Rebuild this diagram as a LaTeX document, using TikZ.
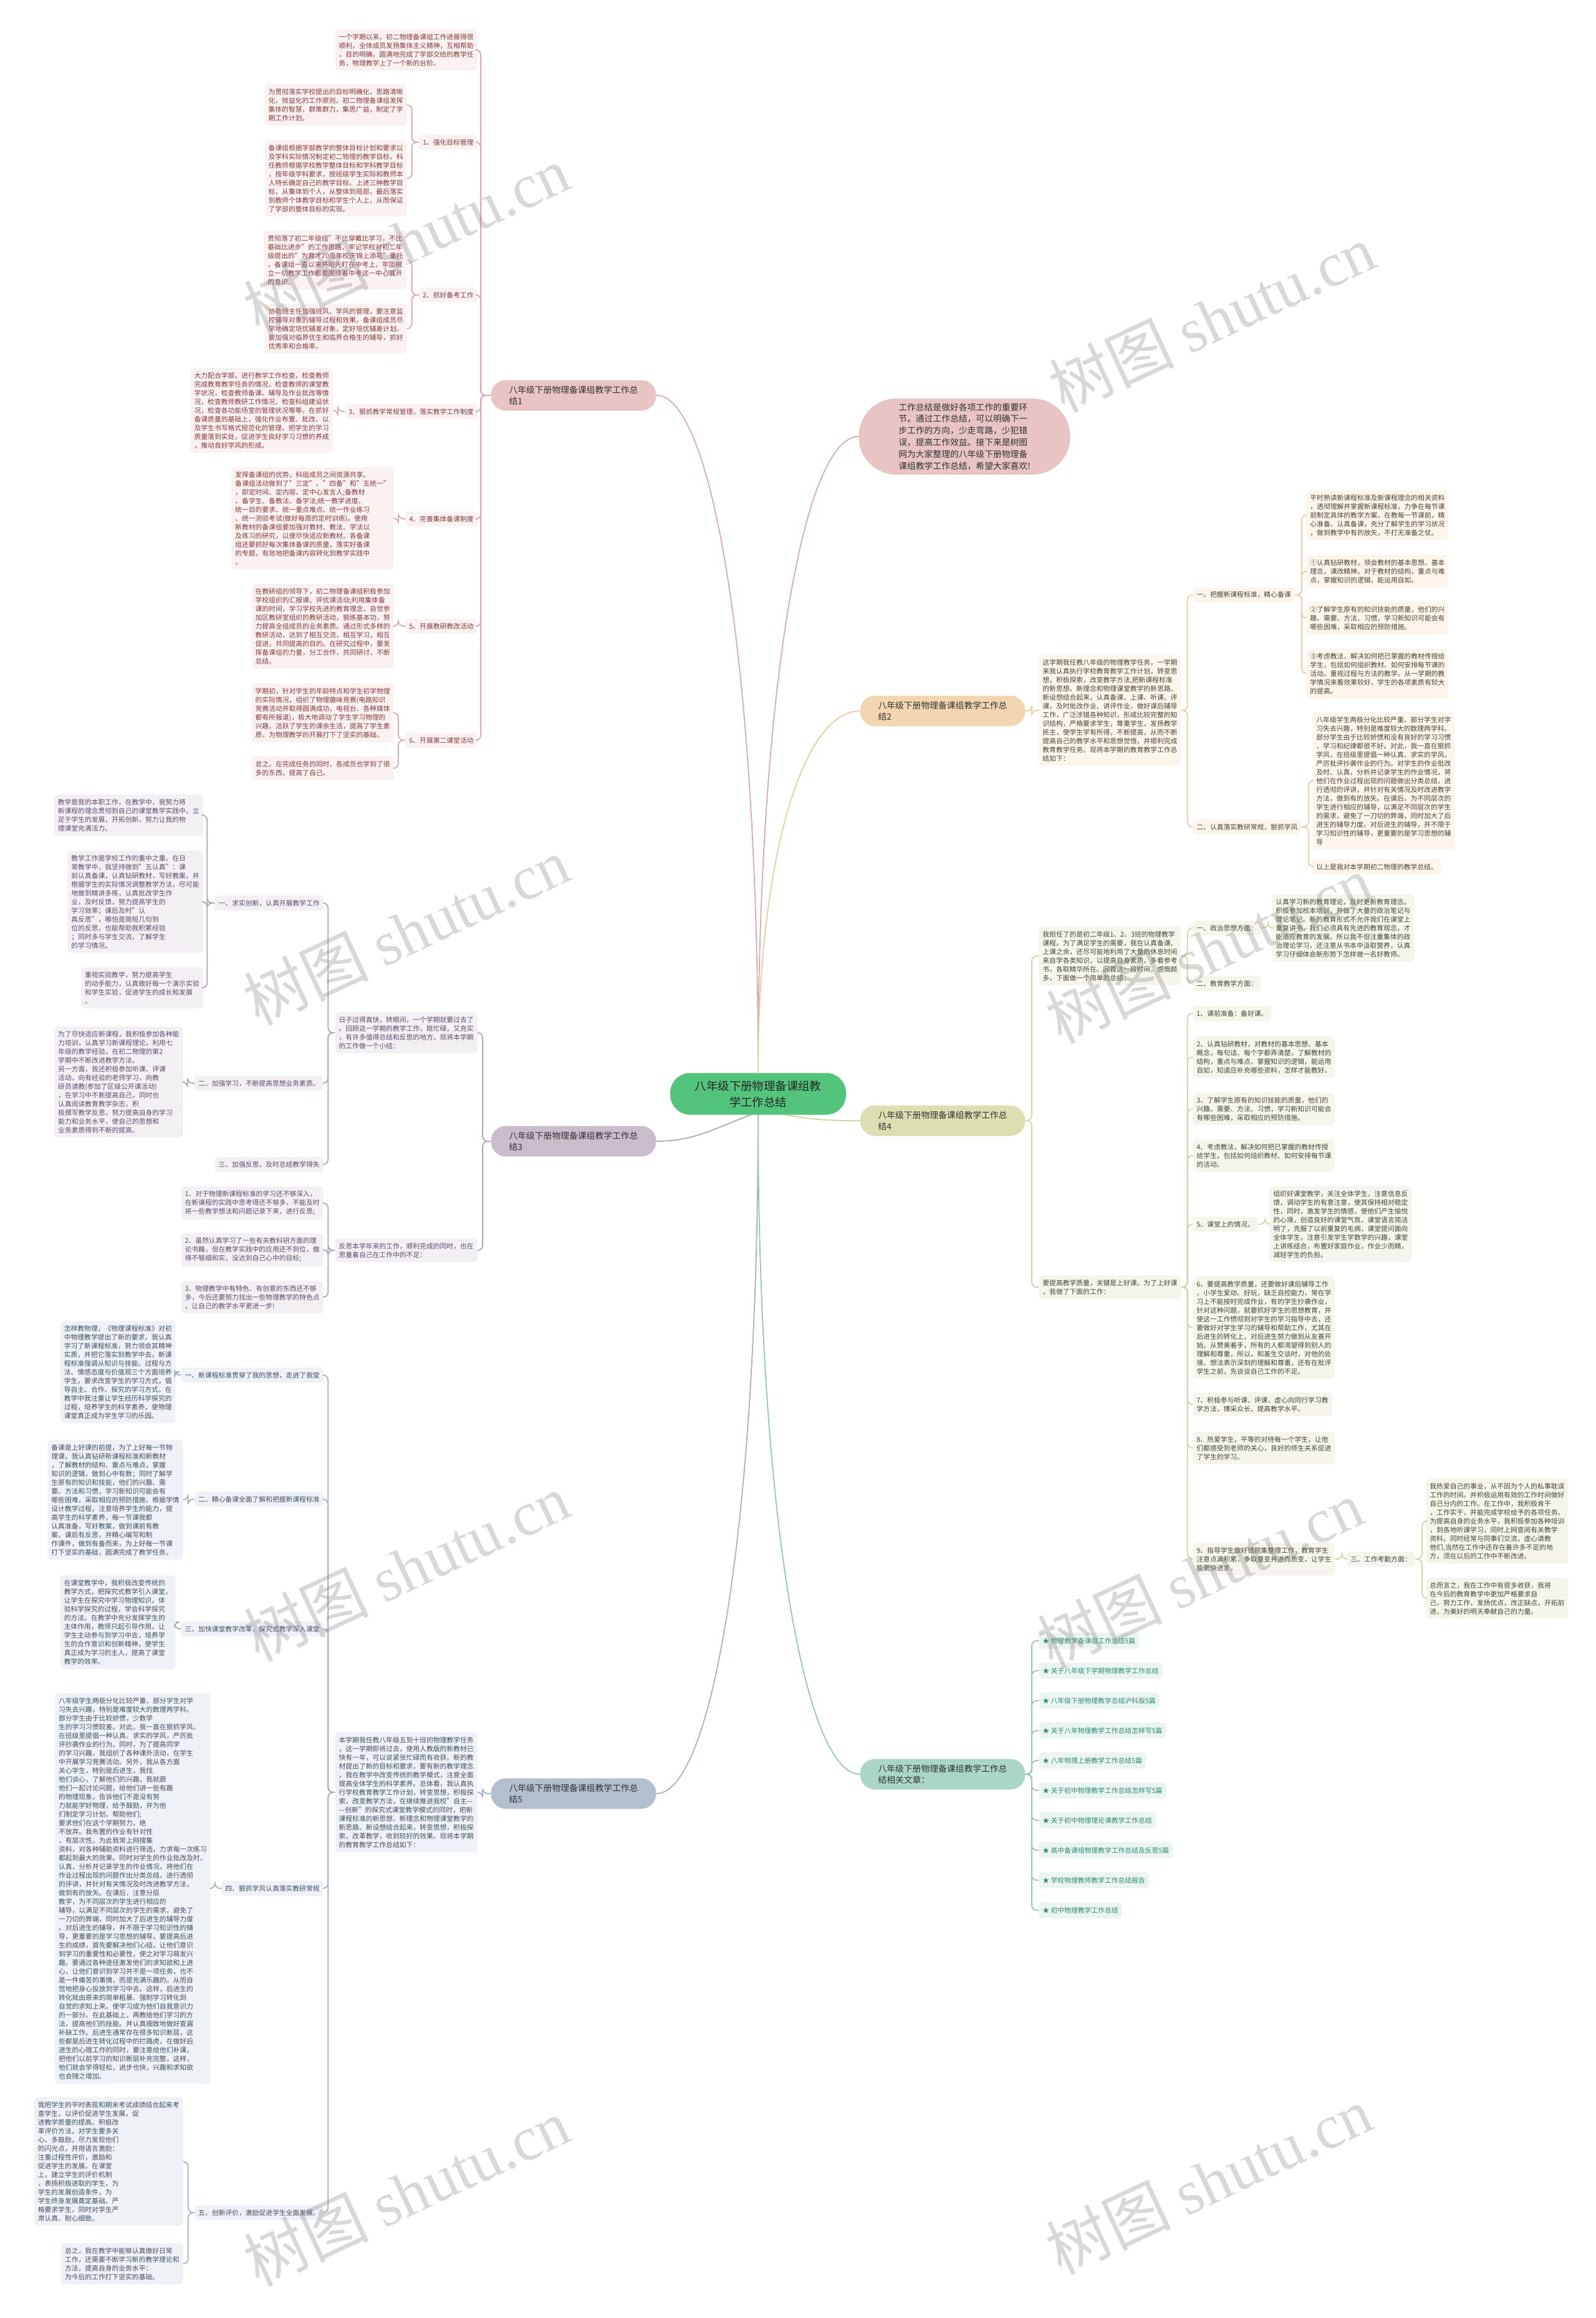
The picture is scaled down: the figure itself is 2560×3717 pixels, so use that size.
\documentclass[tikz,border=0pt]{standalone}
\usepackage{fontspec}
\setmainfont{Noto Sans CJK SC}
\newfontfamily\wmlatin{Liberation Serif}
\usetikzlibrary{positioning}
\definecolor{rootgreen}{HTML}{52C47C}
\definecolor{pinkfill}{HTML}{E8C4C4}
\definecolor{pinkline}{HTML}{DBAAAA}
\definecolor{pinkbox}{HTML}{FAF1F1}
\definecolor{pinktext}{HTML}{8A3B3B}
\definecolor{sandfill}{HTML}{F2D6B2}
\definecolor{sandline}{HTML}{EBCBA0}
\definecolor{sandbox}{HTML}{FBF5EC}
\definecolor{sandtext}{HTML}{4E4232}
\definecolor{plumfill}{HTML}{C9BCCB}
\definecolor{plumline}{HTML}{B3A6B6}
\definecolor{plumbox}{HTML}{F3F0F4}
\definecolor{plumtext}{HTML}{5E4B6A}
\definecolor{olivefill}{HTML}{DDDFB3}
\definecolor{oliveline}{HTML}{D2D4A4}
\definecolor{olivebox}{HTML}{F5F5EC}
\definecolor{olivetext}{HTML}{45453A}
\definecolor{slatefill}{HTML}{B3BFCE}
\definecolor{slateline}{HTML}{A5B2C2}
\definecolor{slatebox}{HTML}{EEF1F5}
\definecolor{slatetext}{HTML}{3F5064}
\definecolor{tealfill}{HTML}{A9D6C6}
\definecolor{tealline}{HTML}{92C8B5}
\definecolor{tealbox}{HTML}{EAF5F1}
\definecolor{tealtext}{HTML}{2F8B71}
\newcommand\txt{\fontsize{5.4pt}{7pt}\selectfont}
\tikzset{
  blk/.style={rounded corners=2.5pt, align=left, inner xsep=3pt, inner ysep=3.5pt, font=\txt},
  topic/.style={rounded corners=12pt, minimum width=132.5pt, minimum height=24.5pt,
    align=left, inner sep=0pt, text=black!80, font=\fontsize{6.9pt}{9pt}\selectfont},
  pbox/.style={blk, fill=pinkbox, text=pinktext},
  sbox/.style={blk, fill=sandbox, text=sandtext},
  mbox/.style={blk, fill=plumbox, text=plumtext},
  obox/.style={blk, fill=olivebox, text=olivetext},
  gbox/.style={blk, fill=slatebox, text=slatetext},
  tbox/.style={blk, fill=tealbox, text=tealtext},
  pln/.style={draw=pinkline, line width=0.9pt, rounded corners=4pt},
  sln/.style={draw=sandline, line width=0.9pt, rounded corners=4pt},
  mln/.style={draw=plumline, line width=0.9pt, rounded corners=4pt},
  oln/.style={draw=oliveline, line width=0.9pt, rounded corners=4pt},
  gln/.style={draw=slateline, line width=0.9pt, rounded corners=4pt},
  tln/.style={draw=tealline, line width=0.9pt, rounded corners=4pt},
  wmark/.style={rotate=25, text=gray, opacity=0.3, font=\fontsize{50pt}{50pt}\selectfont}
}
\begin{document}
\begin{tikzpicture}[x=0.5pt,y=-0.5pt]
  \fill[white] (0,0) rectangle (2560,3717);
  \useasboundingbox (0,0) rectangle (2560,3717);
  % root and first level
  \node[fill=rootgreen, rounded corners=16pt, minimum width=141pt, minimum height=33.5pt,
    align=center, inner sep=0pt, text=black!85, font=\fontsize{9.2pt}{13pt}\selectfont]
    (root) at (1216,1754) {八年级下册物理备课组教\\学工作总结};
  \node[fill=pinkfill, rounded corners=30pt, minimum width=169.5pt, minimum height=61pt,
    align=left, inner sep=0pt, text=black!80, font=\fontsize{6.9pt}{9.4pt}\selectfont]
    (intro) at (1547,700) {工作总结是做好各项工作的重要环\\节。通过工作总结，可以明确下一\\步工作的方向，少走弯路，少犯错\\误，提高工作效益。接下来是树图\\网为大家整理的八年级下册物理备\\课组教学工作总结，希望大家喜欢!};
  \node[topic, fill=pinkfill] (b1) at (920,634) {八年级下册物理备课组教学工作总\\结1};
  \node[topic, fill=sandfill] (b2) at (1512,1140) {八年级下册物理备课组教学工作总\\结2};
  \node[topic, fill=plumfill] (b3) at (920,1830) {八年级下册物理备课组教学工作总\\结3};
  \node[topic, fill=olivefill] (b4) at (1512,1797) {八年级下册物理备课组教学工作总\\结4};
  \node[topic, fill=slatefill] (b5) at (920,2876) {八年级下册物理备课组教学工作总\\结5};
  \node[topic, fill=tealfill] (b6) at (1512,2845) {八年级下册物理备课组教学工作总\\结相关文章：};
  \draw[pln] (root.north) .. controls +(0,-600) and +(-90,0) .. (intro.west);
  \draw[pln] (root.north) .. controls +(0,-650) and +(90,0) .. (b1.east);
  \draw[sln] (root.north) .. controls +(0,-350) and +(-90,0) .. (b2.west);
  \draw[mln] ([xshift=-6pt]root.south) to[out=200,in=0] (b3.east);
  \draw[oln] ([xshift=22pt]root.south) to[out=-10,in=180] (b4.west);
  \draw[gln] (root.south) .. controls +(0,650) and +(90,0) .. (b5.east);
  \draw[tln] (root.south) .. controls +(0,630) and +(-90,0) .. (b6.west);

  % branch 1
  \node[pbox, anchor=east] (b1a) at (766,80) {一个学期以来，初二物理备课组工作进展得很\\顺利，全体成员发扬集体主义精神，互相帮助\\，目的明确，圆满地完成了学部交给的教学任\\务，物理教学上了一个新的台阶。};
  \node[pbox, anchor=east] (b1k1) at (766,228) {1、强化目标管理};
  \node[pbox, anchor=east] (b1k1a) at (653,168) {为贯彻落实学校提出的目标明确化，思路清晰\\化，效益化的工作原则，初二物理备课组发挥\\集体的智慧，群策群力，集思广益，制定了学\\期工作计划。};
  \node[pbox, anchor=east] (b1k1b) at (653,286) {备课组根据学部教学的整体目标计划和要求以\\及学科实际情况制定初二物理的教学目标。科\\任教师根据学校教学整体目标和学科教学目标\\，按年级学科要求，按班级学生实际和教师本\\人特长确定自己的教学目标。上述三种教学目\\标，从集体到个人，从整体到局部，最后落实\\到教师个体教学目标和学生个人上，从而保证\\了学部的整体目标的实现。};
  \node[pbox, anchor=east] (b1k2) at (766,473) {2、抓好备考工作};
  \node[pbox, anchor=east] (b1k2a) at (653,417) {贯彻落了初二年级组"不比穿戴比学习，不比\\基础比进步"的工作思路，牢记学校对初二年\\级提出的"为育才70周年校庆锦上添花"重托\\，备课组一直以来将眼光盯在中考上，牢固树\\立一切教学工作都要围绕着中考这一中心展开\\的意识。};
  \node[pbox, anchor=east] (b1k2b) at (653,527) {协助班主任加强班风、学风的管理，要注意监\\控辅导对象的辅导过程和效果。备课组成员尽\\早地确定培优辅差对象，定好培优辅差计划。\\要加强对临界优生和临界合格生的辅导，抓好\\优秀率和合格率。};
  \node[pbox, anchor=east] (b1k3) at (766,660) {3、狠抓教学常规管理，落实教学工作制度};
  \node[pbox, anchor=east] (b1k3a) at (534,658) {大力配合学部，进行教学工作检查，检查教师\\完成教育教学任务的情况，检查教师的课堂教\\学状况，检查教师备课、辅导及作业批改等情\\况，检查教师教研工作情况，检查科组建设状\\况，检查各功能场室的管理状况等等。在抓好\\备课质量的基础上，强化作业布置、批改、以\\及学生书写格式规范化的管理。把学生的学习\\质量落到实处，促进学生良好学习习惯的养成\\，推动良好学风的形成。};
  \node[pbox, anchor=east] (b1k4) at (766,832) {4、完善集体备课制度};
  \node[pbox, anchor=east] (b1k4a) at (632,831) {发挥备课组的优势，科组成员之间资源共享。\\备课组活动做到了"三定"、"四备"和"五统一"\\，即定时间、定内容、定中心发言人;备教材\\、备学生、备教法、备学法;统一教学进度、\\统一目的要求、统一重点难点、统一作业练习\\、统一测验考试(做好每周的定时训练)。使用\\新教材的备课组要加强对教材、教法、学法以\\及练习的研究，以便尽快适应新教材。各备课\\组还要抓好每次集体备课的质量，落实好备课\\的专题，有效地把备课内容转化到教学实践中\\。};
  \node[pbox, anchor=east] (b1k5) at (766,1004) {5、开展教研教改活动};
  \node[pbox, anchor=east] (b1k5a) at (632,1004) {在教研组的领导下，初二物理备课组积极参加\\学校组织的汇报课、评优课活动;利用集体备\\课的时间，学习学校先进的教育理念，自觉参\\加区教研室组织的教研活动，狠练基本功，努\\力提高全组成员的业务素质。通过形式多样的\\教研活动，达到了相互交流，相互学习，相互\\促进，共同提高的目的。在研究过程中，要发\\挥备课组的力量，分工合作，共同研讨，不断\\总结。};
  \node[pbox, anchor=east] (b1k6) at (766,1187) {6、开展第二课堂活动};
  \node[pbox, anchor=east] (b1k6a) at (632,1143) {学期初，针对学生的年龄特点和学生初学物理\\的实际情况，组织了物理趣味竞赛(电路知识\\竞赛活动并取得圆满成功，电视台、各种媒体\\都有所报道)，极大地调动了学生学习物理的\\兴趣，活跃了学生的课余生活，提高了学生素\\质，为物理教学的开展打下了坚实的基础。};
  \node[pbox, anchor=east] (b1k6b) at (632,1232) {总之，在完成任务的同时，各成员也学到了很\\多的东西，提高了自己。};
  \foreach \c in {b1a,b1k1,b1k2,b1k3,b1k4,b1k5,b1k6}
    \draw[pln] (b1.west) -- ++(-16,0) |- (\c.east);
  \foreach \p/\c in {b1k1/b1k1a,b1k1/b1k1b,b1k2/b1k2a,b1k2/b1k2b,b1k3/b1k3a,b1k4/b1k4a,b1k5/b1k5a,b1k6/b1k6a,b1k6/b1k6b}
    \draw[pln] (\p.west) -- ++(-11,0) |- (\c.east);

  % branch 2
  \node[sbox, anchor=west] (b2a) at (1666,1139) {这学期我任教八年级的物理教学任务，一学期\\来我认真执行学校教育教学工作计划，转变思\\想，积极探索，改变教学方法,把新课程标准\\的新思想、新理念和物理课堂教学的新思路、\\新设想结合起来，认真备课、上课、听课、评\\课，及时批改作业、讲评作业，做好课后辅导\\工作，广泛涉猎各种知识，形成比较完整的知\\识结构，严格要求学生，尊重学生，发扬教学\\民主，使学生学有所得，不断提高，从而不断\\提高自己的教学水平和思想觉悟，并顺利完成\\教育教学任务。现将本学期的教育教学工作总\\结如下：};
  \node[sbox, anchor=west] (b2k1) at (1913,954) {一、把握新课程标准，精心备课};
  \node[sbox, anchor=west] (b2k1a) at (2095,826) {平时熟读新课程标准及新课程理念的相关资料\\，透彻理解并掌握新课程标准，力争在每节课\\前制定具体的教学方案，在教每一节课前，精\\心准备、认真备课，充分了解学生的学习状况\\，做到教学中有的放矢，不打无准备之仗。};
  \node[sbox, anchor=west] (b2k1b) at (2095,916) {①认真钻研教材，领会教材的基本思想、基本\\理念，课改精神。对于教材的结构，重点与难\\点，掌握知识的逻辑，能运用自如。};
  \node[sbox, anchor=west] (b2k1c) at (2095,991) {②了解学生原有的知识技能的质量，他们的兴\\趣、需要、方法、习惯，学习新知识可能会有\\哪些困难，采取相应的预防措施。};
  \node[sbox, anchor=west] (b2k1d) at (2095,1080) {③考虑教法，解决如何把已掌握的教材传授给\\学生，包括如何组织教材、如何安排每节课的\\活动。重视过程与方法的教学。从一学期的教\\学情况来看效果较好，学生的各项素质有较大\\的提高。};
  \node[sbox, anchor=west] (b2k2) at (1913,1326) {二、认真落实教研常规，狠抓学风};
  \node[sbox, anchor=west] (b2k2a) at (2105,1252) {八年级学生两极分化比较严重、部分学生对学\\习失去兴趣，特别是难度较大的数理两学科。\\部分学生由于比较娇惯和没有良好的学习习惯\\，学习和纪律都很不好。对此，我一直在狠抓\\学风，在班级里提倡一种认真、求实的学风，\\严厉批评抄袭作业的行为。对学生的作业批改\\及时、认真，分析并记录学生的作业情况，将\\他们在作业过程出现的问题做出分类总结，进\\行透彻的评讲，并针对有关情况及时改进教学\\方法，做到有的放矢。在课后，为不同层次的\\学生进行相应的辅导，以满足不同层次的学生\\的需求，避免了一刀切的弊端，同时加大了后\\进生的辅导力度。对后进生的辅导，并不限于\\学习知识性的辅导，更重要的是学习思想的辅\\导};
  \node[sbox, anchor=west] (b2k2b) at (2105,1390) {以上是我对本学期初二物理的教学总结。};
  \draw[sln] (b2.east) -- ++(10,0) |- (b2a.west);
  \foreach \c in {b2k1,b2k2}
    \draw[sln] (b2a.east) -- ++(10,0) |- (\c.west);
  \foreach \p/\c in {b2k1/b2k1a,b2k1/b2k1b,b2k1/b2k1c,b2k1/b2k1d,b2k2/b2k2a,b2k2/b2k2b}
    \draw[sln] (\p.east) -- ++(11,0) |- (\c.west);

  % branch 3
  \node[mbox, anchor=east] (b3a) at (766,1656) {日子过得真快，转眼间，一个学期就要过去了\\。回顾这一学期的教学工作，既忙碌，又充实\\，有许多值得总结和反思的地方，现将本学期\\的工作做一个小结：};
  \node[mbox, anchor=east] (b3k1) at (519,1448) {一、求实创新，认真开展教学工作};
  \node[mbox, anchor=east] (b3k1a) at (326,1307) {教学是我的本职工作，在教学中，我努力将\\新课程的理念贯彻到自己的课堂教学实践中，立\\足于学生的发展，开拓创新，努力让我的物\\理课堂充满活力。};
  \node[mbox, anchor=east] (b3k1b) at (326,1446) {教学工作是学校工作的重中之重。在日\\常教学中，我坚持做到"五认真"：课\\前认真备课，认真钻研教材，写好教案，并\\根据学生的实际情况调整教学方法，尽可能\\地做到精讲多练，认真批改学生作\\业，及时反馈，努力提高学生的\\学习效率；课后及时"认\\真反思"，哪怕是简短几句到\\位的反思，也能帮助我积累经验\\；同时多与学生交流，了解学生\\的学习情况。};
  \node[mbox, anchor=east] (b3k1c) at (326,1584) {重视实验教学，努力提高学生\\的动手能力，认真做好每一个演示实验\\和学生实验，促进学生的成长和发展\\。};
  \node[mbox, anchor=east] (b3k2) at (519,1737) {二、加强学习，不断提高思想业务素质。};
  \node[mbox, anchor=east] (b3k2a) at (294,1735) {为了尽快适应新课程，我积极参加各种能\\力培训，认真学习新课程理论，利用七\\年级的教学经验，在初二物理的第2\\学期中不断改进教学方法。\\另一方面，我还积极参加听课、评课\\活动，向有经验的老师学习，向教\\研员请教(参加了区级公开课活动)\\，在学习中不断提高自己，同时也\\认真阅读教育教学杂志，积\\极撰写教学反思，努力提高自身的学习\\能力和业务水平，使自己的思想和\\业务素质得到不断的提高。};
  \node[mbox, anchor=east] (b3k3) at (519,1867) {三、加强反思，及时总结教学得失};
  \node[mbox, anchor=east] (b3b) at (766,2005) {反思本学年来的工作，顺利完成的同时，也在\\思量着自己在工作中的不足：};
  \node[mbox, anchor=east] (b3b1) at (519,1929) {1、对于物理新课程标准的学习还不够深入，\\在新课程的实践中思考得还不够多，不能及时\\将一些教学想法和问题记录下来，进行反思;};
  \node[mbox, anchor=east] (b3b2) at (519,2004) {2、虽然认真学习了一些有关教科研方面的理\\论书籍，但在教学实践中的应用还不到位，做\\得不够细和实，没达到自己心中的目标;};
  \node[mbox, anchor=east] (b3b3) at (519,2080) {3、物理教学中有特色、有创意的东西还不够\\多，今后还要努力找出一些物理教学的特色点\\，让自己的教学水平更进一步!};
  \foreach \c in {b3a,b3b}
    \draw[mln] (b3.west) -- ++(-13,0) |- (\c.east);
  \foreach \c in {b3k1,b3k2,b3k3}
    \draw[mln] (b3a.west) -- ++(-11,0) |- (\c.east);
  \foreach \c in {b3b1,b3b2,b3b3}
    \draw[mln] (b3b.west) -- ++(-11,0) |- (\c.east);
  \foreach \c in {b3k1a,b3k1b,b3k1c}
    \draw[mln] (b3k1.west) -- ++(-12,0) |- (\c.east);
  \draw[mln] (b3k2.west) -- ++(-11,0) |- (b3k2a.east);

  % branch 4
  \node[obox, anchor=west] (b4a) at (1666,1533) {我担任了的是初二年级1、2、3班的物理教学\\课程。为了满足学生的需要，我在认真备课、\\上课之余，还尽可能地利用了大量的休息时间\\来自学各类知识，以提高自身素质。多看参考\\书，各取精华所在。回首这一段时间，感慨颇\\多，下面做一个简单的总结：};
  \node[obox, anchor=west] (b4a1) at (1913,1488) {一、政治思想方面：};
  \node[obox, anchor=west] (b4a1x) at (2040,1488) {认真学习新的教育理论，及时更新教育理念。\\积极参加校本培训，并做了大量的政治笔记与\\理论笔记。新的教育形式不允许我们在课堂上\\重复讲书，我们必须具有先进的教育观念，才\\能适应教育的发展。所以我不但注重集体的政\\治理论学习，还注意从书本中汲取营养，认真\\学习仔细体会新形势下怎样做一名好教师。};
  \node[obox, anchor=west] (b4a2) at (1913,1577) {二、教育教学方面：};
  \node[obox, anchor=west] (b4b) at (1666,2064) {要提高教学质量，关键是上好课。为了上好课\\，我做了下面的工作：};
  \node[obox, anchor=west] (b4n1) at (1913,1625) {1、课前准备：备好课。};
  \node[obox, anchor=west] (b4n2) at (1913,1695) {2、认真钻研教材，对教材的基本思想、基本\\概念，每句话、每个字都弄清楚，了解教材的\\结构，重点与难点，掌握知识的逻辑，能运用\\自如，知道应补充哪些资料，怎样才能教好。};
  \node[obox, anchor=west] (b4n3) at (1913,1778) {3、了解学生原有的知识技能的质量，他们的\\兴趣、需要、方法、习惯，学习新知识可能会\\有哪些困难，采取相应的预防措施。};
  \node[obox, anchor=west] (b4n4) at (1913,1853) {4、考虑教法，解决如何把已掌握的教材传授\\给学生，包括如何组织教材、如何安排每节课\\的活动。};
  \node[obox, anchor=west] (b4n5) at (1913,1963) {5、课堂上的情况。};
  \node[obox, anchor=west] (b4n5x) at (2036,1963) {组织好课堂教学，关注全体学生，注意信息反\\馈，调动学生的有意注意，使其保持相对稳定\\性，同时，激发学生的情感，使他们产生愉悦\\的心境，创造良好的课堂气氛，课堂语言简洁\\明了，克服了以前重复的毛病，课堂提问面向\\全体学生，注意引发学生学数学的兴趣，课堂\\上讲练结合，布置好家庭作业，作业少而精，\\减轻学生的负担。};
  \node[obox, anchor=west] (b4n6) at (1913,2129) {6、要提高教学质量，还要做好课后辅导工作\\，小学生爱动、好玩，缺乏自控能力，常在学\\习上不能按时完成作业，有的学生抄袭作业，\\针对这种问题，就要抓好学生的思想教育，并\\使这一工作惯彻到对学生的学习指导中去，还\\要做好对学生学习的辅导和帮助工作，尤其在\\后进生的转化上，对后进生努力做到从友善开\\始。从赞美着手，所有的人都渴望得到别人的\\理解和尊重，所以，和差生交谈时，对他的处\\境、想法表示深刻的理解和尊重，还有在批评\\学生之前，先谈谈自己工作的不足。};
  \node[obox, anchor=west] (b4n7) at (1913,2252) {7、积极参与听课、评课，虚心向同行学习教\\学方法，博采众长，提高教学水平。};
  \node[obox, anchor=west] (b4n8) at (1913,2322) {8、热爱学生，平等的对待每一个学生，让他\\们都感受到老师的关心，良好的师生关系促进\\了学生的学习。};
  \node[obox, anchor=west] (b4n9) at (1913,2500) {9、指导学生做好错题集整理工作，教育学生\\注意点滴积累，争取量变并进而质变，让学生\\能更快进步。};
  \node[obox, anchor=west] (b4n9k) at (2160,2500) {三、工作考勤方面：};
  \node[obox, anchor=west] (b4n9a) at (2287,2439) {我热爱自己的事业，从不因为个人的私事耽误\\工作的时间。并积极运用有效的工作时间做好\\自己分内的工作。在工作中，我积极肯干\\，工作实干，并能完成学校给予的各项任务。\\为提高自身的业务水平，我积极参加各种培训\\，到各地听课学习，同时上网查阅有关教学\\资料。同时经常与同事们交流，虚心请教\\他们,当然在工作中还存在着许多不足的地\\方，须在以后的工作中不断改进。};
  \node[obox, anchor=west] (b4n9b) at (2287,2563) {总而言之，我在工作中有很多收获，我将\\在今后的教育教学中更加严格要求自\\己，努力工作，发扬优点，改正缺点，开拓前\\进，为美好的明天奉献自己的力量。};
  \foreach \c in {b4a,b4b}
    \draw[oln] (b4.east) -- ++(10,0) |- (\c.west);
  \foreach \c in {b4a1,b4a2}
    \draw[oln] (b4a.east) -- ++(10,0) |- (\c.west);
  \draw[oln] (b4a1.east) -- ++(11,0) |- (b4a1x.west);
  \foreach \c in {b4n1,b4n2,b4n3,b4n4,b4n5,b4n6,b4n7,b4n8,b4n9}
    \draw[oln] (b4b.east) -- ++(10,0) |- (\c.west);
  \draw[oln] (b4n5.east) -- ++(11,0) |- (b4n5x.west);
  \draw[oln] (b4n9.east) -- ++(11,0) |- (b4n9k.west);
  \foreach \c in {b4n9a,b4n9b}
    \draw[oln] (b4n9k.east) -- ++(11,0) |- (\c.west);

  % branch 5
  \node[gbox, anchor=east] (b5a) at (766,2874) {本学期我任教八年级五到十班的物理教学任务\\，这一学期即将过去，使用人教版的新教材已\\快有一年，可以说紧张忙碌而有收获。新的教\\材提出了新的目标和要求，要有新的教学理念\\，我在教学中改变传统的教学模式，注意全面\\提高全体学生的科学素养。总体看，我认真执\\行学校教育教学工作计划，转变思想，积极探\\索，改变教学方法，在继续推进我校"自主—\\—创新"的探究式课堂教学模式的同时，把新\\课程标准的新思想、新理念和物理课堂教学的\\新思路、新设想结合起来，转变思想，积极探\\索，改革教学，收到较好的效果。现将本学期\\的教育教学工作总结如下：};
  \node[gbox, anchor=east] (b5k1) at (519,2205) {一、新课程标准贯穿了我的思想，走进了我堂};
  \node[gbox, anchor=east] (b5k1a) at (282,2200) {怎样教物理，《物理课程标准》对初\\中物理教学提出了新的要求，我认真\\学习了新课程标准，努力领会其精神\\实质，并把它落实到教学中去。新课\\程标准强调从知识与技能、过程与方\\法、情感态度与价值观三个方面培养\\学生，要求改变学生的学习方式，倡\\导自主、合作、探究的学习方式。在\\教学中我注重让学生经历科学探究的\\过程，培养学生的科学素养，使物理\\课堂真正成为学生学习的乐园。};
  \node[gbox, anchor=east] (b5k2) at (519,2404) {二、精心备课全面了解和把握新课程标准};
  \node[gbox, anchor=east] (b5k2a) at (294,2405) {备课是上好课的前提，为了上好每一节物\\理课，我认真钻研新课程标准和新教材\\，了解教材的结构、重点与难点，掌握\\知识的逻辑，做到心中有数；同时了解学\\生原有的知识和技能，他们的兴趣、需\\要、方法和习惯，学习新知识可能会有\\哪些困难，采取相应的预防措施，根据学情\\设计教学过程，注意培养学生的能力，提\\高学生的科学素养，每一节课我都\\认真准备，写好教案，做到课前有教\\案，课后有反思，并精心编写和制\\作课件，做到有备而来，为上好每一节课\\打下坚实的基础，圆满完成了教学任务。};
  \node[gbox, anchor=east] (b5k3) at (519,2612) {三、加快课堂教学改革，探究式教学深入课堂};
  \node[gbox, anchor=east] (b5k3a) at (282,2601) {在课堂教学中，我积极改变传统的\\教学方式，把探究式教学引入课堂，\\让学生在探究中学习物理知识，体\\验科学探究的过程，学会科学探究\\的方法。在教学中充分发挥学生的\\主体作用，教师只起引导作用，让\\学生主动参与到学习中去，培养学\\生的合作意识和创新精神，使学生\\真正成为学习的主人，提高了课堂\\教学的效率。};
  \node[gbox, anchor=east] (b5k4) at (519,3028) {四、狠抓学风认真落实教研常规};
  \node[gbox, anchor=east] (b5k4a) at (338,3028) {八年级学生两极分化比较严重、部分学生对学\\习失去兴趣，特别是难度较大的数理两学科。\\部分学生由于比较娇惯，少数学\\生的学习习惯较差。对此，我一直在狠抓学风，\\在班级里提倡一种认真、求实的学风，严厉批\\评抄袭作业的行为。同时，为了提高同学\\的学习兴趣，我组织了各种课外活动，在学生\\中开展学习竞赛活动。另外，我从各方面\\关心学生，特别是后进生，我找\\他们谈心，了解他们的兴趣，我就跟\\他们一起讨论问题，给他们讲一些有趣\\的物理现象，告诉他们不是没有努\\力就能学好物理，给予鼓励，并为他\\们制定学习计划，帮助他们;\\要求他们在这个学期努力，绝\\不放弃。我布置的作业有针对性\\，有层次性。为此我常上网搜集\\资料，对各种辅助资料进行筛选，力求每一次练习\\都起到最大的效果。同时对学生的作业批改及时、\\认真，分析并记录学生的作业情况，将他们在\\作业过程出现的问题作出分类总结，进行透彻\\的评讲，并针对有关情况及时改进教学方法，\\做到有的放矢。在课后，注意分层\\教学，为不同层次的学生进行相应的\\辅导，以满足不同层次的学生的需求，避免了\\一刀切的弊端，同时加大了后进生的辅导力度\\。对后进生的辅导，并不限于学习知识性的辅\\导，更重要的是学习思想的辅导，要提高后进\\生的成绩，首先要解决他们心结，让他们意识\\到学习的重要性和必要性，使之对学习萌发兴\\趣。要通过各种途径激发他们的求知欲和上进\\心，让他们意识到学习并不是一项任务，也不\\是一件痛苦的事情，而是充满乐趣的。从而自\\觉地把身心投放到学习中去。这样，后进生的\\转化就由原来的简单粗暴、强制学习转化到\\自觉的求知上来。使学习成为他们自我意识力\\的一部分。在此基础上，再教给他们学习的方\\法，提高他们的技能。并认真细致地做好查漏\\补缺工作。后进生通常存在很多知识断层，这\\些都是后进生转化过程中的拦路虎，在做好后\\进生的心理工作的同时，要注意给他们补课，\\把他们以前学习的知识断层补充完整，这样，\\他们就会学得轻松，进步也快，兴趣和求知欲\\也会随之增加。};
  \node[gbox, anchor=east] (b5k5) at (519,3548) {五、创新评价，激励促进学生全面发展。};
  \node[gbox, anchor=east] (b5k5a) at (294,3466) {我把学生的平时表现和期末考试成绩结合起来考\\查学生，以评价促进学生发展，促\\进教学质量的提高。积极改\\革评价方法，对学生要多关\\心、多鼓励，尽力发现他们\\的闪光点，并用语言激励：\\注重过程性评价，激励和\\促进学生的发展。在课堂\\上，建立学生的评价机制\\，表扬积极进取的学生，为\\学生的发展创造条件，为\\学生终身发展奠定基础。严\\格要求学生，同时对学生严\\肃认真、耐心细致。};
  \node[gbox, anchor=east] (b5k5b) at (294,3630) {总之，我在教学中能够认真做好日常\\工作，还需要不断学习新的教学理论和\\方法，提高自身的业务水平：\\为今后的工作打下坚实的基础。};
  \draw[gln] (b5.west) -- ++(-13,0) |- (b5a.east);
  \foreach \c in {b5k1,b5k2,b5k3,b5k4,b5k5}
    \draw[gln] (b5a.west) -- ++(-11,0) |- (\c.east);
  \foreach \p/\c in {b5k1/b5k1a,b5k2/b5k2a,b5k3/b5k3a,b5k4/b5k4a,b5k5/b5k5a,b5k5/b5k5b}
    \draw[gln] (\p.west) -- ++(-10,0) |- (\c.east);

  % related articles
  \foreach \t [count=\i] in {物理教学备课组工作总结5篇,关于八年级下学期物理教学工作总结,八年级下册物理教学总结沪科版5篇,关于八年物理教学工作总结怎样写5篇,八年物理上册教学工作总结5篇,关于初中物理教学工作总结怎样写5篇,关于初中物理理论课教学工作总结,高中备课组物理教学工作总结及反思5篇,学校物理教师教学工作总结报告,初中物理教学工作总结}{
    \node[tbox, anchor=west, inner ysep=4pt] (r\i) at (1666,2583+48*\i) {★ \t};
    \draw[tln] (b6.east) -- ++(10,0) |- (r\i.west);
  }

  % watermark
  \foreach \wx/\wy in {652/384,1944/510,652/1493,1939/1522,652/2513,1925/2524,652/3515,1939/3496}
    \node[wmark] at (\wx,\wy) {树图 {\wmlatin shutu.cn}};
\end{tikzpicture}
\end{document}
